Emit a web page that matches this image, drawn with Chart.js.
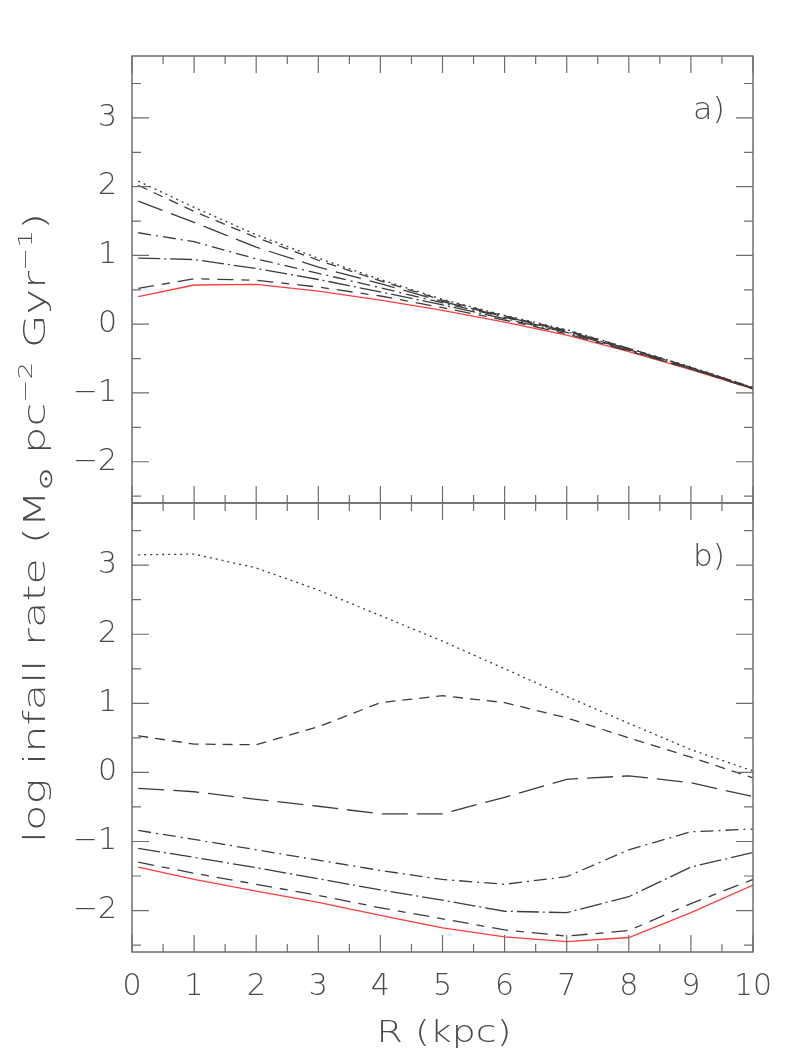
<!DOCTYPE html>
<html><head><meta charset="utf-8">
<script src="https://cdn.jsdelivr.net/npm/chart.js@4.4.1/dist/chart.umd.min.js"></script>
<style>html,body{margin:0;padding:0;background:#fff;}canvas{position:absolute;left:0;top:0;}</style>
</head><body>
<canvas id="ca" width="795" height="1059"></canvas>
<canvas id="cb" width="795" height="1059"></canvas>
<script>
// ---- data ----
const radius = [0.1, 1, 2, 3, 4, 5, 6, 7, 8, 9, 10];
const xTicks = [0, 1, 2, 3, 4, 5, 6, 7, 8, 9, 10];
const yTicks = [-2, -1, 0, 1, 2, 3];
const panelLabels = ['a)', 'b)'];
const xTitle = 'R (kpc)';

// panel a)
const aDotted      = [2.08, 1.70, 1.30, 0.96, 0.65, 0.36, 0.13, -0.08, -0.35, -0.62, -0.92];
const aShortDash   = [2.02, 1.64, 1.26, 0.93, 0.63, 0.35, 0.12, -0.09, -0.35, -0.63, -0.92];
const aLongDash    = [1.79, 1.48, 1.12, 0.83, 0.59, 0.33, 0.11, -0.10, -0.36, -0.63, -0.93];
const aDashDot     = [1.33, 1.20, 0.95, 0.74, 0.53, 0.31, 0.10, -0.11, -0.37, -0.64, -0.93];
const aLongDashDot = [0.96, 0.94, 0.81, 0.65, 0.47, 0.28, 0.08, -0.12, -0.38, -0.65, -0.93];
const aLongShort   = [0.52, 0.66, 0.64, 0.54, 0.41, 0.24, 0.06, -0.14, -0.39, -0.65, -0.94];
const aSolid       = [0.40, 0.57, 0.58, 0.48, 0.35, 0.20, 0.03, -0.16, -0.40, -0.66, -0.94];

// panel b)
const bDotted      = [3.15, 3.16, 2.96, 2.64, 2.27, 1.90, 1.50, 1.10, 0.71, 0.33, 0.02];
const bShortDash   = [0.53, 0.41, 0.40, 0.66, 1.01, 1.11, 1.01, 0.79, 0.50, 0.22, -0.08];
const bLongDash    = [-0.23, -0.28, -0.39, -0.49, -0.60, -0.60, -0.36, -0.10, -0.05, -0.15, -0.35];
const bDashDot     = [-0.84, -0.97, -1.12, -1.27, -1.42, -1.55, -1.62, -1.51, -1.12, -0.86, -0.82];
const bLongDashDot = [-1.10, -1.23, -1.38, -1.54, -1.70, -1.85, -2.01, -2.03, -1.80, -1.37, -1.16];
const bLongShort   = [-1.30, -1.46, -1.62, -1.78, -1.96, -2.12, -2.28, -2.37, -2.29, -1.90, -1.55];
const bSolid       = [-1.37, -1.55, -1.72, -1.88, -2.07, -2.25, -2.38, -2.45, -2.39, -2.03, -1.63];

// ---- styles ----
const GREY = '#3c3c3c';
const AXIS = '#6e6e6e';
const TXT = '#4a4a4a';
const FONT = '"DejaVu Sans", sans-serif';
const WEIGHT = '200';
const lineStyles = [
  {dash: [2, 4], color: GREY},
  {dash: [10, 7], color: GREY},
  {dash: [26, 9], color: GREY},
  {dash: [13, 5, 2, 5], color: GREY},
  {dash: [22, 4, 2, 4], color: GREY},
  {dash: [16, 8, 8, 8], color: GREY},
  {dash: [], color: '#ff3d3d'}
];

function makeDatasets(series) {
  return series.map((vals, i) => ({
    data: radius.map((r, k) => ({x: r, y: vals[k]})),
    borderColor: lineStyles[i].color,
    borderDash: lineStyles[i].dash,
    borderWidth: 1.3,
    pointRadius: 0,
    tension: 0,
    fill: false
  }));
}

function fmt(v) {
  return v < 0 ? '\u2212' + Math.abs(v) : String(v);
}

function drawStretched(ctx, pieces, cx, baseY, targetW, rot) {
  ctx.save();
  ctx.translate(cx, baseY);
  if (rot) ctx.rotate(-Math.PI / 2);
  let W = 0;
  pieces.forEach(p => { ctx.font = WEIGHT + ' ' + p.size + 'px ' + FONT; p.w = ctx.measureText(p.t).width; W += p.w; });
  const sx = targetW / W;
  ctx.scale(sx, 1);
  ctx.fillStyle = TXT;
  ctx.textBaseline = 'alphabetic';
  ctx.textAlign = 'left';
  let x = -W / 2;
  pieces.forEach(p => { ctx.font = WEIGHT + ' ' + p.size + 'px ' + FONT; ctx.fillText(p.t, x, p.dy || 0); x += p.w; });
  ctx.restore();
}

function framePlugin(panelIdx, isTop) {
  return {
    id: 'frame' + panelIdx,
    afterDraw(chart) {
      const ctx = chart.ctx;
      const {left, top, right, bottom} = chart.chartArea;
      const xs = chart.scales.x, ys = chart.scales.y;
      ctx.save();
      ctx.strokeStyle = AXIS;
      ctx.lineWidth = 1.5;
      ctx.strokeRect(left, top, right - left, bottom - top);
      ctx.lineWidth = 1.2;
      ctx.beginPath();
      for (let k = 0; k <= 20; k++) {
        const px = xs.getPixelForValue(k / 2);
        const len = (k % 2 === 0) ? 17 : 8;
        ctx.moveTo(px, bottom); ctx.lineTo(px, bottom - len);
        ctx.moveTo(px, top); ctx.lineTo(px, top + len);
      }
      for (let k = -5; k <= 7; k++) {
        const py = ys.getPixelForValue(k / 2);
        const len = (k % 2 === 0) ? 17 : 9;
        ctx.moveTo(left, py); ctx.lineTo(left + len, py);
        ctx.moveTo(right, py); ctx.lineTo(right - len, py);
      }
      ctx.stroke();
      ctx.restore();
      drawStretched(ctx, [{t: panelLabels[panelIdx], size: 31}],
        right - 44, ys.getPixelForValue(3) + 1, 32, false);
      if (isTop) {
        drawStretched(ctx, [
          {t: 'log infall rate (M', size: 31},
          {t: '\u2299', size: 19, dy: 7},
          {t: ' pc', size: 31},
          {t: '\u22122', size: 20, dy: -13},
          {t: ' Gyr', size: 31},
          {t: '\u22121', size: 20, dy: -13},
          {t: ')', size: 31}
        ], 45, 528, 630, true);
      } else {
        drawStretched(ctx, [{t: xTitle, size: 31}], 444, 1042, 135, false);
      }
    }
  };
}

function yScale() {
  return {
    type: 'linear', min: -2.6, max: 3.9,
    grid: {display: false, drawTicks: false},
    border: {display: false},
    afterBuildTicks: s => { s.ticks = yTicks.map(v => ({value: v})); },
    afterFit: s => { s.width = 132; s.paddingTop = 0; s.paddingBottom = 0; },
    ticks: {
      callback: v => fmt(v),
      font: {family: FONT, size: 30, weight: WEIGHT},
      color: TXT,
      padding: 15
    }
  };
}

const common = {
  responsive: false,
  animation: false,
  events: [],
  plugins: {legend: {display: false}, tooltip: {enabled: false}}
};

new Chart(document.getElementById('ca'), {
  type: 'line',
  data: {datasets: makeDatasets([aDotted, aShortDash, aLongDash, aDashDot, aLongDashDot, aLongShort, aSolid])},
  options: Object.assign({}, common, {
    layout: {padding: {left: 0, top: 56, right: 42, bottom: 556}},
    scales: {
      x: {type: 'linear', min: 0, max: 10, display: false},
      y: yScale()
    }
  }),
  plugins: [framePlugin(0, true)]
});

new Chart(document.getElementById('cb'), {
  type: 'line',
  data: {datasets: makeDatasets([bDotted, bShortDash, bLongDash, bDashDot, bLongDashDot, bLongShort, bSolid])},
  options: Object.assign({}, common, {
    layout: {padding: {left: 0, top: 503, right: 42, bottom: 0}},
    scales: {
      x: {
        type: 'linear', min: 0, max: 10,
        grid: {display: false, drawTicks: false},
        border: {display: false},
        afterBuildTicks: s => { s.ticks = xTicks.map(v => ({value: v})); },
        afterFit: s => { s.height = 107; s.paddingLeft = 0; s.paddingRight = 0; },
        ticks: {
          callback: v => String(v),
          font: {family: FONT, size: 30, weight: WEIGHT},
          color: TXT,
          padding: 17,
          maxRotation: 0,
          autoSkip: false
        }
      },
      y: yScale()
    }
  }),
  plugins: [framePlugin(1, false)]
});
</script>
</body></html>
